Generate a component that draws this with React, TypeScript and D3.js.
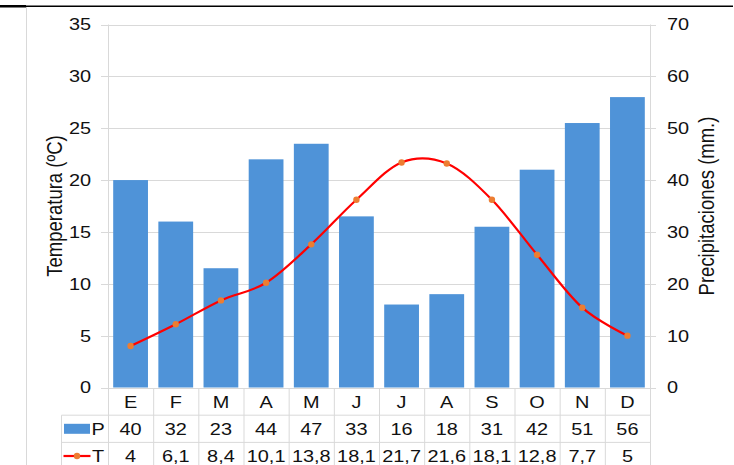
import * as d3 from 'd3'
import React from 'react'

const months = ['E', 'F', 'M', 'A', 'M', 'J', 'J', 'A', 'S', 'O', 'N', 'D']
const precip = [40, 32, 23, 44, 47, 33, 16, 18, 31, 42, 51, 56]
const temp = [4, 6.1, 8.4, 10.1, 13.8, 18.1, 21.7, 21.6, 18.1, 12.8, 7.7, 5]
const tempTicks = [0, 5, 10, 15, 20, 25, 30, 35]
const precipTicks = [0, 10, 20, 30, 40, 50, 60, 70]

const W = 734, H = 465
const SX = 1.17 // the reference glyphs are a bit wider than they are tall
const FONT = '"Liberation Sans", Arial, sans-serif'
const INK = '#111'
const GRID = '#d9d9d9'
const BAR = '#4f93d8'

const fmt = (v: number) => String(v).replace('.', ',')

const Label = ({ x, y, anchor = 'middle', size = 17, rotate, children }:
  { x: number, y: number, anchor?: string, size?: number, rotate?: number, children: React.ReactNode }) =>
  <text
    transform={`translate(${x},${y}) scale(${SX},1)${rotate ? ` rotate(${rotate})` : ''}`}
    textAnchor={anchor} dominantBaseline='central' fontSize={size} fill={INK}>{children}</text>

export default function App() {
  const
    left = 108, right = 650, top = 24.5, bottom = 387.5,
    x = d3.scaleBand<number>().domain(d3.range(months.length)).range([left, right]).paddingInner(0.23).paddingOuter(0.115),
    step = x.step(),
    cx = (i: number) => x(i)! + x.bandwidth() / 2,
    yT = d3.scaleLinear().domain([0, 35]).range([bottom, top]),
    yP = d3.scaleLinear().domain([0, 70]).range([bottom, top]),
    line = d3.line<number>().x((_, i) => cx(i)).y(d => yT(d)).curve(d3.curveCatmullRom.alpha(0)),
    rowH = 27.2,
    rows = [bottom + 0.5, bottom + 0.5 + rowH, bottom + 0.5 + 2 * rowH, bottom + 0.5 + 3 * rowH],
    legendLeft = 61.5

  return (
    <>
      <style>{'body{margin:0}'}</style>
      <svg width={W} height={H} style={{ display: 'block', fontFamily: FONT }}>
        <rect width={W} height={H} fill='#fff' />
        {/* frame pieces */}
        <line x1={0} x2={733} y1={6.3} y2={6.3} stroke='#000' strokeWidth={1.4} />
        <rect x={0} y={5} width={26} height={2.5} fill='#000' />
        <line x1={26.5} x2={26.5} y1={7} y2={H} stroke={GRID} />

        {/* gridlines */}
        {tempTicks.map(t =>
          <line key={t} x1={101} x2={656} y1={Math.round(yT(t)) + 0.5} y2={Math.round(yT(t)) + 0.5} stroke={GRID} strokeWidth={1} />)}
        <line x1={left + 0.5} x2={left + 0.5} y1={top} y2={H} stroke={GRID} />
        <line x1={right + 0.5} x2={right + 0.5} y1={top} y2={H} stroke={GRID} />

        {/* bars */}
        {precip.map((p, i) =>
          <rect key={i} x={x(i)} y={yP(p)} width={x.bandwidth()} height={bottom - yP(p)} fill={BAR} />)}

        {/* temperature line */}
        <path d={line(temp)!} fill='none' stroke='#ff0000' strokeWidth={2.2} />
        {temp.map((t, i) => <circle key={i} cx={cx(i)} cy={yT(t)} r={3.2} fill='#ed7d31' />)}

        {/* axes tick labels */}
        {tempTicks.map(t => <Label key={t} x={91} y={yT(t)} anchor='end'>{t}</Label>)}
        {precipTicks.map(t => <Label key={t} x={667} y={yP(t)} anchor='start'>{t}</Label>)}
        <Label x={54} y={(top + bottom) / 2} size={18.5} rotate={-90}>Temperatura (ºC)</Label>
        <Label x={706} y={(top + bottom) / 2} size={18.5} rotate={-90}>Precipitaciones (mm.)</Label>

        {/* data table */}
        {rows.slice(1).map((r, k) =>
          <line key={k} x1={legendLeft} x2={right + 0.5} y1={r} y2={r} stroke={GRID} />)}
        <line x1={legendLeft} x2={legendLeft} y1={rows[1]} y2={H} stroke={GRID} />
        {d3.range(1, months.length).map(i =>
          <line key={i} x1={left + 0.5 + i * step} x2={left + 0.5 + i * step} y1={rows[0]} y2={H} stroke={GRID} />)}
        {months.map((m, i) => <Label key={i} x={left + (i + 0.5) * step} y={(rows[0] + rows[1]) / 2}>{m}</Label>)}
        {precip.map((p, i) => <Label key={i} x={left + (i + 0.5) * step} y={(rows[1] + rows[2]) / 2}>{fmt(p)}</Label>)}
        {temp.map((t, i) => <Label key={i} x={left + (i + 0.5) * step} y={(rows[2] + rows[3]) / 2}>{fmt(t)}</Label>)}

        {/* legend keys */}
        <rect x={64} y={(rows[1] + rows[2]) / 2 - 5} width={26} height={10} fill={BAR} />
        <Label x={91.5} y={(rows[1] + rows[2]) / 2} anchor='start'>P</Label>
        <line x1={63.5} x2={90.5} y1={(rows[2] + rows[3]) / 2} y2={(rows[2] + rows[3]) / 2} stroke='#ff0000' strokeWidth={2.2} />
        <circle cx={77} cy={(rows[2] + rows[3]) / 2} r={3.2} fill='#ed7d31' />
        <Label x={92} y={(rows[2] + rows[3]) / 2} anchor='start'>T</Label>
      </svg>
    </>
  )
}
